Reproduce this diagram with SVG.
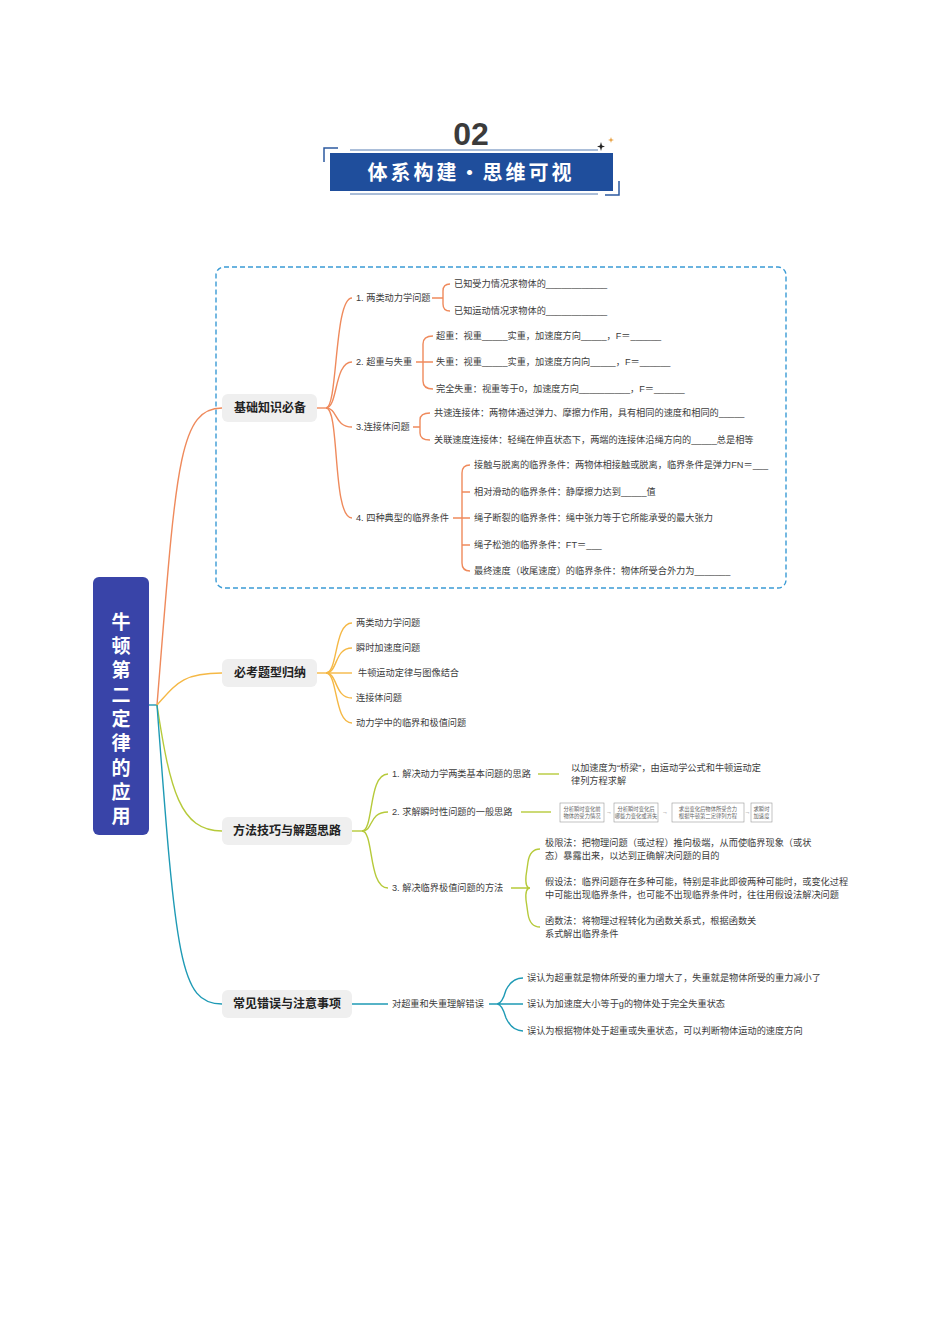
<svg xmlns="http://www.w3.org/2000/svg" width="950" height="1344" viewBox="0 0 950 1344">
<style>
text{font-family:"Liberation Sans","Noto Sans CJK SC",sans-serif;dominant-baseline:central}
.t{font-size:9.2px;fill:#3c3c3c}
.n{font-size:12px;font-weight:bold;fill:#222}
.nb{fill:#efefef}
.o{fill:none;stroke:#ef8a5c;stroke-width:1.4}
.y{fill:none;stroke:#f5b845;stroke-width:1.4}
.g{fill:none;stroke:#b6ca3a;stroke-width:1.4}
.c{fill:none;stroke:#1e9ab5;stroke-width:1.4}
.fb{fill:#fff;stroke:#999;stroke-width:0.6}
.ft{font-family:"Liberation Serif","Noto Sans CJK SC",serif;font-size:5.3px;fill:#666}
.ar{font-size:6px;fill:#777}
</style>
<rect width="950" height="1344" fill="#fff"/>
<g id="header">
<text x="471" y="134" font-size="32" font-weight="bold" fill="#3b3b3b" text-anchor="middle">02</text>
<path d="M324,162 L324,148 L338,148" fill="none" stroke="#2c5aa0" stroke-width="1.5"/>
<path d="M350,150 L598,150" fill="none" stroke="#2c5aa0" stroke-width="0.8"/>
<rect x="330" y="153" width="283" height="38" fill="#1f4e9c"/>
<path d="M350,194 L598,194" fill="none" stroke="#2c5aa0" stroke-width="0.8"/>
<path d="M605,195 L619,195 L619,181" fill="none" stroke="#2c5aa0" stroke-width="1.5"/>
<text x="471" y="173" font-size="20" font-weight="bold" fill="#fff" text-anchor="middle" letter-spacing="3">体系构建・思维可视</text>
<path d="M601,142 L602,145.5 L605,146.5 L602,147.5 L601,151 L600,147.5 L597,146.5 L600,145.5Z" fill="#222"/>
<path d="M611,137 L611.7,139.3 L614,140 L611.7,140.7 L611,143 L610.3,140.7 L608,140 L610.3,139.3Z" fill="#e8a040"/>
</g>
<rect x="216" y="267" width="570" height="321" rx="8" fill="none" stroke="#3a9bd5" stroke-width="1.4" stroke-dasharray="5,3"/>
<g id="connectors">
<path class="c" d="M149,705 L157,705"/>
<path class="o" d="M157,705 C176,470 178,408 222,408"/>
<path class="y" d="M157,705 C176,684 182,673 222,673"/>
<path class="g" d="M157,705 C170,790 180,831 222,831"/>
<path class="c" d="M157,705 C176,960 180,1004 222,1004"/>
<path class="o" d="M317,408 L326,408"/>
<path class="o" d="M326,408 C338,408 334,298 352,298"/>
<path class="o" d="M326,408 C338,408 334,362 352,362"/>
<path class="o" d="M326,408 C338,408 334,427 352,427"/>
<path class="o" d="M326,408 C340,408 332,518 352,518"/>
<path class="o" d="M432,298 L443,298 M450,284 Q443,284 443,291 L443,304 Q443,311 450,311"/>
<path class="o" d="M416,362 L433,362 M433,336 Q423,336 423,344 L423,381 Q423,389 433,389"/>
<path class="o" d="M413,427 L420,427 M430,413 Q420,413 420,420 L420,433 Q420,440 430,440"/>
<path class="o" d="M453,518 L470,518 M470,465 Q462,465 462,473 L462,563 Q462,571 470,571 M462,492 L470,492 M462,545 L470,545"/>
<path class="y" d="M317,673 L326,673"/>
<path class="y" d="M326,673 C338,673 334,623 352,623"/>
<path class="y" d="M326,673 C338,673 334,648 352,648"/>
<path class="y" d="M326,673 L352,673"/>
<path class="y" d="M326,673 C338,673 334,698 352,698"/>
<path class="y" d="M326,673 C338,673 334,723 352,723"/>
<path class="g" d="M352,831 L362,831"/>
<path class="g" d="M362,831 C374,831 368,774 388,774"/>
<path class="g" d="M362,831 C374,831 368,812 388,812"/>
<path class="g" d="M362,831 C374,831 368,888 388,888"/>
<path class="g" d="M538,774 L559,774"/>
<path class="g" d="M521,812 L551,812"/>
<path class="g" d="M511,888 L530,888 M540,849 Q530,849 528,862 L526,876 Q525,888 530,888 Q525,888 526,900 L528,914 Q530,927 540,927"/>
<path class="c" d="M352,1004 L388,1004"/>
<path class="c" d="M489,1004 L523,1004 M523,978 Q512,978 506,990 Q502,1004 497,1004 Q502,1004 506,1018 Q512,1031 523,1031"/>
</g>
<g id="root">
<rect x="93" y="577" width="56" height="258" rx="6" fill="#3944a8"/>
<g font-size="19" font-weight="bold" fill="#fff" text-anchor="middle">
<text x="121" y="622">牛</text><text x="121" y="646">顿</text><text x="121" y="670">第</text><text x="121" y="695">二</text><text x="121" y="719">定</text><text x="121" y="743">律</text><text x="121" y="768">的</text><text x="121" y="792">应</text><text x="121" y="816">用</text>
</g>
</g>
<g id="n1">
<rect class="nb" x="222" y="394" width="95" height="28" rx="6"/>
<text class="n" x="270" y="408" text-anchor="middle">基础知识必备</text>
</g>
<g id="n1-1"><text class="t" x="356" y="298">1. 两类动力学问题</text></g>
<g id="n1-1-a"><text class="t" x="454" y="284">已知受力情况求物体的____________</text></g>
<g id="n1-1-b"><text class="t" x="454" y="311">已知运动情况求物体的____________</text></g>
<g id="n1-2"><text class="t" x="356" y="362">2. 超重与失重</text></g>
<g id="n1-2-a"><text class="t" x="436" y="336">超重：视重_____实重，加速度方向_____，F＝______</text></g>
<g id="n1-2-b"><text class="t" x="436" y="362">失重：视重_____实重，加速度方向向_____，F＝______</text></g>
<g id="n1-2-c"><text class="t" x="436" y="389">完全失重：视重等于0，加速度方向__________，F＝______</text></g>
<g id="n1-3"><text class="t" x="356" y="427">3.连接体问题</text></g>
<g id="n1-3-a"><text class="t" x="434" y="413">共速连接体：两物体通过弹力、摩擦力作用，具有相同的速度和相同的_____</text></g>
<g id="n1-3-b"><text class="t" x="434" y="440">关联速度连接体：轻绳在伸直状态下，两端的连接体沿绳方向的_____总是相等</text></g>
<g id="n1-4"><text class="t" x="356" y="518">4. 四种典型的临界条件</text></g>
<g id="n1-4-a"><text class="t" x="474" y="465">接触与脱离的临界条件：两物体相接触或脱离，临界条件是弹力FN＝___</text></g>
<g id="n1-4-b"><text class="t" x="474" y="492">相对滑动的临界条件：静摩擦力达到_____值</text></g>
<g id="n1-4-c"><text class="t" x="474" y="518">绳子断裂的临界条件：绳中张力等于它所能承受的最大张力</text></g>
<g id="n1-4-d"><text class="t" x="474" y="545">绳子松弛的临界条件：FT＝___</text></g>
<g id="n1-4-e"><text class="t" x="474" y="571">最终速度（收尾速度）的临界条件：物体所受合外力为_______</text></g>
<g id="n2">
<rect class="nb" x="222" y="659" width="95" height="28" rx="6"/>
<text class="n" x="270" y="673" text-anchor="middle">必考题型归纳</text>
</g>
<g id="n2-1"><text class="t" x="356" y="623">两类动力学问题</text></g>
<g id="n2-2"><text class="t" x="356" y="648">瞬时加速度问题</text></g>
<g id="n2-3"><text class="t" x="358" y="673">牛顿运动定律与图像结合</text></g>
<g id="n2-4"><text class="t" x="356" y="698">连接体问题</text></g>
<g id="n2-5"><text class="t" x="356" y="723">动力学中的临界和极值问题</text></g>
<g id="n3">
<rect class="nb" x="222" y="817" width="130" height="28" rx="6"/>
<text class="n" x="287" y="831" text-anchor="middle">方法技巧与解题思路</text>
</g>
<g id="n3-1"><text class="t" x="392" y="774">1. 解决动力学两类基本问题的思路</text></g>
<g id="n3-1-a"><text class="t" x="571" y="768">以加速度为“桥梁”，由运动学公式和牛顿运动定<tspan x="571" dy="12.5">律列方程求解</tspan></text></g>
<g id="n3-2"><text class="t" x="392" y="812">2. 求解瞬时性问题的一般思路</text></g>
<g id="n3-2-a">
<rect class="fb" x="560" y="803" width="44" height="19"/>
<text class="ft" x="582" y="808.5" text-anchor="middle">分析瞬时变化前<tspan x="582" dy="7">物体的受力情况</tspan></text>
<text class="ar" x="609" y="812" text-anchor="middle">→</text>
<rect class="fb" x="614" y="803" width="44" height="19"/>
<text class="ft" x="636" y="808.5" text-anchor="middle">分析瞬时变化后<tspan x="636" dy="7">哪些力变化或消失</tspan></text>
<text class="ar" x="665" y="812" text-anchor="middle">→</text>
<rect class="fb" x="672" y="803" width="72" height="19"/>
<text class="ft" x="708" y="808.5" text-anchor="middle">求出变化后物体所受合力<tspan x="708" dy="7">根据牛顿第二定律列方程</tspan></text>
<text class="ar" x="747.5" y="812" text-anchor="middle">→</text>
<rect class="fb" x="751" y="803" width="21" height="19"/>
<text class="ft" x="761.5" y="808.5" text-anchor="middle">求瞬时<tspan x="761.5" dy="7">加速度</tspan></text>
</g>
<g id="n3-3"><text class="t" x="392" y="888">3. 解决临界极值问题的方法</text></g>
<g id="n3-3-a"><text class="t" x="545" y="843">极限法：把物理问题（或过程）推向极端，从而使临界现象（或状<tspan x="545" dy="12.5">态）暴露出来，以达到正确解决问题的目的</tspan></text></g>
<g id="n3-3-b"><text class="t" x="545" y="882">假设法：临界问题存在多种可能，特别是非此即彼两种可能时，或变化过程<tspan x="545" dy="12.5">中可能出现临界条件，也可能不出现临界条件时，往往用假设法解决问题</tspan></text></g>
<g id="n3-3-c"><text class="t" x="545" y="921">函数法：将物理过程转化为函数关系式，根据函数关<tspan x="545" dy="12.5">系式解出临界条件</tspan></text></g>
<g id="n4">
<rect class="nb" x="222" y="990" width="130" height="28" rx="6"/>
<text class="n" x="287" y="1004" text-anchor="middle">常见错误与注意事项</text>
</g>
<g id="n4-1"><text class="t" x="392" y="1004">对超重和失重理解错误</text></g>
<g id="n4-1-a"><text class="t" x="527" y="978">误认为超重就是物体所受的重力增大了，失重就是物体所受的重力减小了</text></g>
<g id="n4-1-b"><text class="t" x="527" y="1004">误认为加速度大小等于g的物体处于完全失重状态</text></g>
<g id="n4-1-c"><text class="t" x="527" y="1031">误认为根据物体处于超重或失重状态，可以判断物体运动的速度方向</text></g>
</svg>
